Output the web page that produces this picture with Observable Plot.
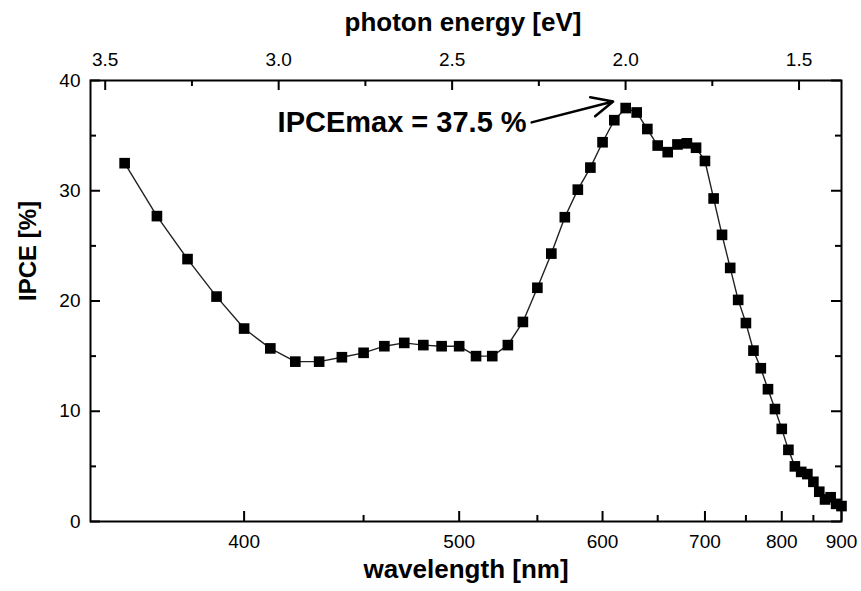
<!DOCTYPE html>
<html><head><meta charset="utf-8">
<script src="https://cdn.jsdelivr.net/npm/d3@7"></script>
<script src="https://cdn.jsdelivr.net/npm/@observablehq/plot@0.6"></script>
<style>body{margin:0;background:#fff}</style>
</head><body><div id="chart"></div>
<script>
// Data: IPCE (%) vs wavelength (nm)
const wavelength = [360,370,380,390,400,410,420,430,440,450,460,470,480,490,500,510,520,530,540,550,560,570,580,590,600,610,620,630,640,650,660,670,680,690,700,710,720,730,740,750,760,770,780,790,800,810,820,830,840,850,860,870,880,890,900];
const ipce = [32.5,27.7,23.8,20.4,17.5,15.7,14.5,14.5,14.9,15.3,15.9,16.2,16.0,15.9,15.9,15.0,15.0,16.0,18.1,21.2,24.3,27.6,30.1,32.1,34.4,36.4,37.5,37.1,35.6,34.1,33.5,34.2,34.3,33.9,32.7,29.3,26.0,23.0,20.1,18.0,15.5,13.9,12.0,10.2,8.4,6.5,5.0,4.5,4.3,3.6,2.7,2.0,2.2,1.6,1.4];

// Axis ticks
const energyTicks = [3.5,3.0,2.5,2.0,1.5];
const energyMinor = [3.25,2.75,2.25,1.75];
const wavelengthTicks = [400,500,600,700,800,900];
const wavelengthMinor = [450,550,650,750,850];
const ipceTicks = [0,10,20,30,40];
const ipceMinor = [5,15,25,35];
const wavelengthRange = [350,900];

// Annotation
const annotationText = ["IPCEmax = 37.5 %"];
const arrowFrom = {wavelength: 546, ipce: 36.2};
const arrowTo = {wavelength: 609, ipce: 38.1};

const HC = 1239.84;
const toE = nm => HC / nm;
const data = wavelength.map((w, i) => ({energy: toE(w), ipce: ipce[i]}));

const W = 861, H = 591, mL = 90, mR = 20, mT = 80, mB = 70;
const pw = W - mL - mR, ph = H - mT - mB;
const font = "Liberation Sans, Arial, Helvetica, sans-serif";
const major = 10, minor = 6;

const chart = Plot.plot({
  width: W, height: H,
  marginLeft: mL, marginRight: mR, marginTop: mT, marginBottom: mB,
  style: {fontFamily: font, background: "white", color: "black", overflow: "visible"},
  x: {domain: wavelengthRange.map(toE), axis: null},
  y: {domain: [0, 40], axis: null},
  marks: [
    // inward ticks
    Plot.ruleX(energyTicks, {insetBottom: ph - major, strokeWidth: 2}),
    Plot.ruleX(energyMinor, {insetBottom: ph - minor, strokeWidth: 2}),
    Plot.ruleX(wavelengthTicks, {x: toE, insetTop: ph - major, strokeWidth: 2}),
    Plot.ruleX(wavelengthMinor, {x: toE, insetTop: ph - minor, strokeWidth: 2}),
    Plot.ruleY(ipceTicks, {insetRight: pw - major, strokeWidth: 2}),
    Plot.ruleY(ipceMinor, {insetRight: pw - minor, strokeWidth: 2}),
    Plot.ruleY(ipceTicks, {insetLeft: pw - major, strokeWidth: 2}),
    Plot.ruleY(ipceMinor, {insetLeft: pw - minor, strokeWidth: 2}),
    Plot.frame({strokeWidth: 2}),
    // tick labels
    Plot.text(energyTicks, {x: d => d, frameAnchor: "top", dy: -28, text: d3.format(".1f"), fontSize: 19}),
    Plot.text(wavelengthTicks, {x: toE, frameAnchor: "bottom", dy: 26, text: d => String(d), fontSize: 19}),
    Plot.text(ipceTicks, {y: d => d, frameAnchor: "left", dx: -10, textAnchor: "end", text: d => String(d), fontSize: 19}),
    // axis titles
    Plot.text(["photon energy [eV]"], {text: d => d, frameAnchor: "top", dy: -68, dx: -3, fontSize: 26, fontWeight: "bold"}),
    Plot.text(["wavelength [nm]"], {text: d => d, frameAnchor: "bottom", dy: 56, fontSize: 26, fontWeight: "bold"}),
    Plot.text(["IPCE [%]"], {text: d => d, frameAnchor: "left", dx: -62, rotate: -90, fontSize: 24, fontWeight: "bold"}),
    // data
    Plot.line(data, {x: "energy", y: "ipce", stroke: "#222", strokeWidth: 1.4}),
    Plot.dot(data, {x: "energy", y: "ipce", symbol: "square", r: 6, fill: "black", stroke: "none"}),
    // annotation
    Plot.arrow([{a: arrowFrom, b: arrowTo}], {
      x1: d => toE(d.a.wavelength), y1: d => d.a.ipce,
      x2: d => toE(d.b.wavelength), y2: d => d.b.ipce,
      stroke: "black", strokeWidth: 2.5, headLength: 14, headAngle: 50
    }),
    Plot.text(annotationText, {
      x: () => toE(arrowFrom.wavelength), y: () => arrowFrom.ipce,
      text: d => d, textAnchor: "end", dx: -5, fontSize: 29, fontWeight: "bold"
    })
  ]
});
document.getElementById("chart").appendChild(chart);
</script>
</body></html>
